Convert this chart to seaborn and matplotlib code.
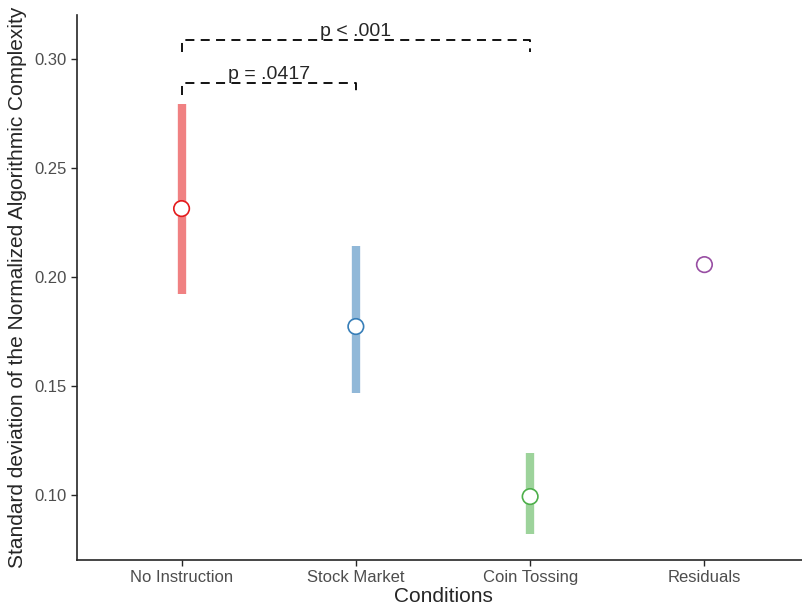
import numpy as np
import pandas as pd
import seaborn as sns
import matplotlib.pyplot as plt

# values
conditions = ['No Instruction', 'Stock Market', 'Coin Tossing', 'Residuals']
sd_mean = [0.2312, 0.1771, 0.0991, 0.2055]
ci_low = [0.192, 0.1468, 0.0817, np.nan]
ci_high = [0.279, 0.2142, 0.1193, np.nan]
colors = ['#E41A1C', '#377EB8', '#4DAF4A', '#984EA3']

# significance brackets: (from, to, height, label, text x)
brackets = [(0, 1, 0.2890, 'p = .0417', 0.5),
            (0, 2, 0.3087, 'p < .001', 1.0)]

df = pd.DataFrame({'cond': conditions, 'sd': sd_mean, 'lo': ci_low, 'hi': ci_high})

sns.set_style('ticks')
plt.rcParams['font.family'] = ['Liberation Sans', 'DejaVu Sans']

fig = plt.figure(figsize=(8.03, 6.10), dpi=100)
ax = fig.add_axes([77 / 803, 50 / 610, 732 / 803, 545 / 610])

# error bars
for i, row in df.iterrows():
    if not np.isnan(row['lo']):
        ax.plot([i, i], [row['lo'], row['hi']], color=colors[i], alpha=0.55,
                lw=6, solid_capstyle='butt', zorder=1)

sns.scatterplot(data=df, x='cond', y='sd', hue='cond', palette=colors,
                ax=ax, s=125, facecolor='white', legend=False, zorder=3)
# open circles with coloured edges
coll = ax.collections[0]
coll.set_facecolor('white')
coll.set_edgecolor(colors)
coll.set_linewidth(1.2)

# brackets
for a, b, h, txt, xm in brackets:
    ax.plot([a, a, b, b], [h - 0.0055, h, h, h - 0.0055], color='black',
            lw=1.3, ls=(0, (5, 3.5)), zorder=2)
    ax.text(xm, h - 0.0003, txt, ha='center', va='bottom', fontsize=14)

ax.set_xlim(-0.6, 3.6)
ax.set_ylim(0.070, 0.320)
ax.set_yticks([0.10, 0.15, 0.20, 0.25, 0.30])
ax.set_yticklabels(['0.10', '0.15', '0.20', '0.25', '0.30'])
ax.tick_params(axis='both', labelsize=12, labelcolor='#4D4D4D', length=4, width=1)
ax.set_xlabel('Conditions', fontsize=15, labelpad=1)
ax.set_ylabel('Standard deviation of the Normalized Algorithmic Complexity',
              fontsize=15, labelpad=5)
for s in ['left', 'bottom']:
    ax.spines[s].set_linewidth(1.2)
sns.despine(ax=ax)

fig.savefig('out.png', dpi=100)
